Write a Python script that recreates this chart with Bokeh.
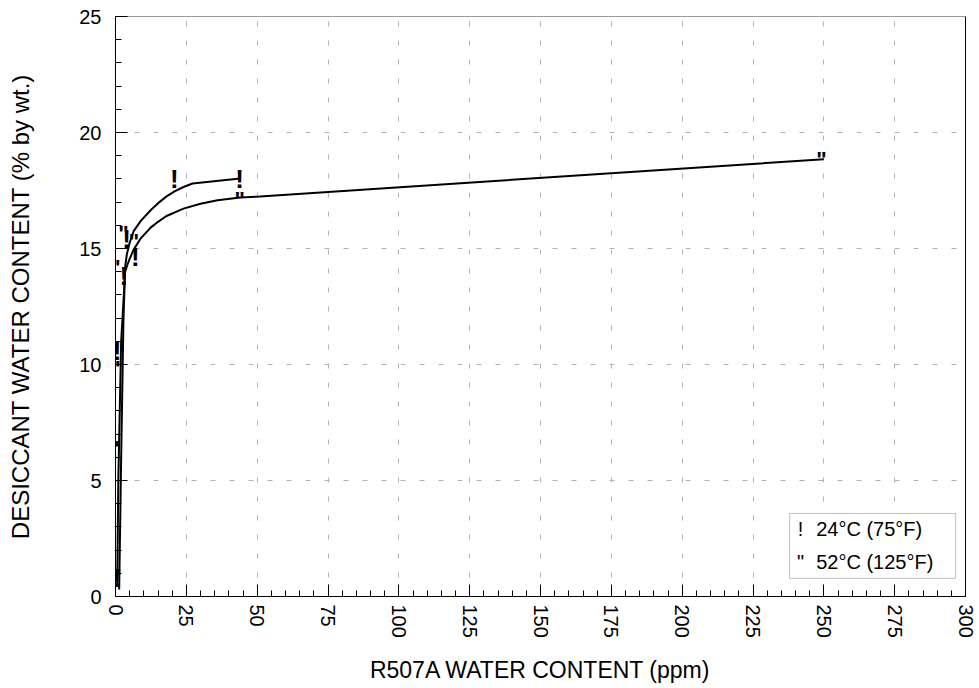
from bokeh.plotting import figure
from bokeh.models import (Range1d, LinearAxis, FixedTicker, SingleIntervalTicker, BoxAnnotation,
                          Label, LabelSet, ColumnDataSource)
from bokeh.core.properties import value
from bokeh.embed import file_html
from bokeh.resources import INLINE

# Curves
c24_x = [1.3, 2.0, 2.8, 3.4, 4.0, 5.0, 6.4, 9.0, 12.4, 15.5, 18.3, 21.0, 24.0, 27.2, 44.0]
c24_y = [0.3, 6.0, 11.9, 14.2, 14.75, 15.25, 15.75, 16.2, 16.65, 17.0, 17.27, 17.47, 17.65, 17.8, 18.02]
c52_x = [0.6, 1.0, 2.0, 3.4, 4.2, 5.0, 6.4, 9.0, 12.4, 15.0, 18.0, 24.0, 30.0, 36.0, 44.0, 51.0, 250.0]
c52_y = [0.5, 5.0, 11.0, 14.0, 14.3, 14.55, 14.95, 15.45, 15.9, 16.15, 16.4, 16.72, 16.93, 17.08, 17.2, 17.24, 18.85]

# Measured points
p24_x = [0.5, -0.5, 0.6, 2.9, 3.9, 7.0, 20.8, 43.8]
p24_y = [0.8, 6.3, 10.6, 13.8, 15.4, 14.65, 18.0, 18.0]
p52_x = [0.3, -0.3, 0.0, 0.0, 2.8, 6.5, 43.8, 249.2]
p52_y = [1.1, 6.6, 10.05, 14.4, 15.9, 15.55, 17.35, 19.07]

legend_labels = ["24°C (75°F)", "52°C (125°F)"]
x_label = "R507A WATER CONTENT (ppm)"
y_label = "DESICCANT WATER CONTENT (% by wt.)"

FONT = "Liberation Sans"

p = figure(width=979, height=688, x_range=Range1d(0, 300), y_range=Range1d(0, 25),
           output_backend="svg", toolbar_location=None,
           min_border_left=115, min_border_right=14, min_border_top=16, min_border_bottom=92)
p.outline_line_color = None
p.background_fill_color = "white"

for ax in (p.xaxis[0], p.yaxis[0]):
    ax.major_tick_in = 12
    ax.major_tick_out = 0
    ax.minor_tick_in = 6
    ax.minor_tick_out = 0
    ax.axis_line_color = "black"
    ax.major_tick_line_color = "black"
    ax.minor_tick_line_color = "black"
    ax.major_label_text_font = FONT
    ax.major_label_text_font_size = "20px"
    ax.major_label_text_color = "black"
    ax.axis_label_text_font = FONT
    ax.axis_label_text_font_style = "normal"
    ax.axis_label_text_color = "black"

p.xaxis[0].axis_label_text_font_size = "23px"
p.yaxis[0].axis_label_text_font_size = "24px"
p.xaxis[0].ticker = SingleIntervalTicker(interval=25, num_minor_ticks=5)
p.yaxis[0].ticker = SingleIntervalTicker(interval=5, num_minor_ticks=5)
p.xaxis[0].major_label_orientation = "vertical"
p.xaxis[0].major_label_standoff = 8
p.yaxis[0].major_label_standoff = 14
p.xaxis[0].axis_label = x_label
p.yaxis[0].axis_label = y_label
p.xaxis[0].axis_label_standoff = 16
p.yaxis[0].axis_label_standoff = 42

p.xgrid.ticker = SingleIntervalTicker(interval=25)
p.ygrid.ticker = SingleIntervalTicker(interval=5)
for g in (p.xgrid[0], p.ygrid[0]):
    g.grid_line_color = "#b4b4b4"
    g.grid_line_dash = "5 14"
    g.grid_line_width = 1

right = LinearAxis(ticker=FixedTicker(ticks=[]), axis_line_color="black",
                   major_label_text_font_size="0px")
top = LinearAxis(ticker=FixedTicker(ticks=[]), axis_line_color="#9a9a9a",
                 major_label_text_font_size="0px")
p.add_layout(right, "right")
p.add_layout(top, "above")

p.line(c24_x, c24_y, line_color="black", line_width=2)
p.line(c52_x, c52_y, line_color="black", line_width=2)

src24 = ColumnDataSource(dict(x=p24_x, y=p24_y, t=["!"] * len(p24_x)))
src52 = ColumnDataSource(dict(x=p52_x, y=p52_y, t=['"'] * len(p52_x)))
p.add_layout(LabelSet(x="x", y="y", text="t", source=src24, text_font=value(FONT),
                      text_font_style="bold", text_font_size="26px", text_align="center",
                      text_baseline="middle", text_color="black"))
p.add_layout(LabelSet(x="x", y="y", text="t", source=src52, text_font=value(FONT),
                      text_font_style="bold", text_font_size="22px", text_align="center",
                      text_baseline="middle", text_color="black", y_offset=-5.5))

# Legend (manual)
box = BoxAnnotation(left=237.9, right=296.5, bottom=0.78, top=3.58, fill_color="white",
                    fill_alpha=1.0, line_color="#333333", line_width=1)
p.add_layout(box)
for sym, lab, yy in (("!", legend_labels[0], 2.93), ('"', legend_labels[1], 1.47)):
    p.add_layout(Label(x=241.8, y=yy, text=sym, text_font=FONT, text_font_size="20px",
                       text_align="center", text_baseline="middle", text_color="black"))
    p.add_layout(Label(x=247.3, y=yy, text=lab, text_font=FONT, text_font_size="20px",
                       text_align="left", text_baseline="middle", text_color="black"))

open("out.html", "w").write(file_html(p, INLINE))
